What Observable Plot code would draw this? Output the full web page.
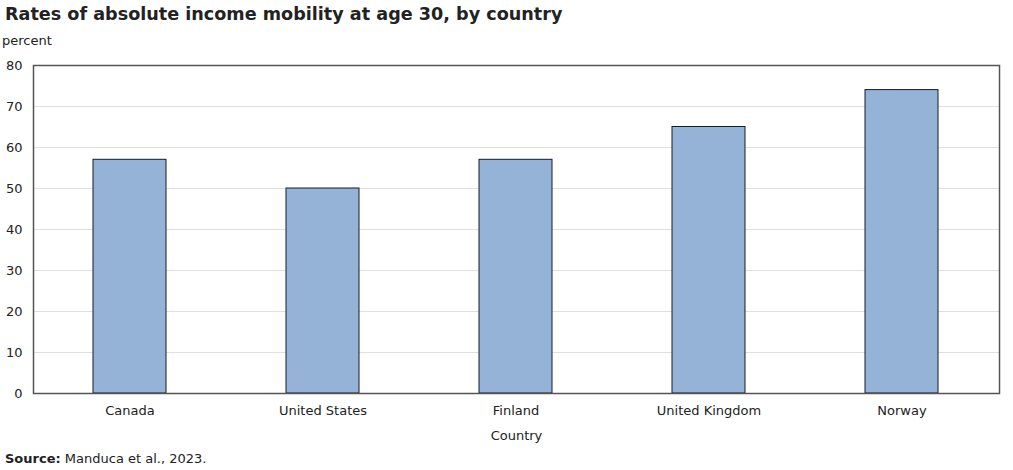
<!DOCTYPE html>
<html>
<head>
<meta charset="utf-8">
<script src="https://cdn.jsdelivr.net/npm/d3@7"></script>
<script src="https://cdn.jsdelivr.net/npm/@observablehq/plot@0.6"></script>
<style>
  body { margin: 0; background: #fff; font-family: "DejaVu Sans", Verdana, sans-serif; color: #222; }
  #title { position: absolute; left: 5px; top: 4px; font-size: 17.6px; font-weight: bold; color: #222; }
  #unit { position: absolute; left: 2px; top: 33px; font-size: 13px; color: #222; }
  #chart { position: absolute; left: 0; top: 55px; }
  #source { position: absolute; left: 5px; top: 451px; font-size: 13px; color: #222; }
</style>
</head>
<body>
<div id="title">Rates of absolute income mobility at age 30, by country</div>
<div id="unit">percent</div>
<div id="chart"></div>
<div id="source"><b>Source:</b> Manduca et al., 2023.</div>
<script>
const countries = ["Canada", "United States", "Finland", "United Kingdom", "Norway"];
const values = [57, 50, 57, 65, 74];
const yTicks = [0, 10, 20, 30, 40, 50, 60, 70, 80];

const data = countries.map((c, i) => ({country: c, value: values[i]}));

const chart = Plot.plot({
  width: 1013,
  height: 393,
  marginTop: 10,
  marginLeft: 33,
  marginRight: 14,
  marginBottom: 55,
  style: {fontFamily: "DejaVu Sans, Verdana, sans-serif", fontSize: "13px", color: "#222", background: "#fff"},
  x: {domain: countries, paddingInner: 0.62, paddingOuter: 0.31, label: null},
  y: {domain: [0, 80], label: null},
  marks: [
    Plot.gridY(yTicks.filter(d => d > 0 && d < 80), {stroke: "#e0e0e0", strokeOpacity: 1, strokeWidth: 1}),
    Plot.barY(data, {x: "country", y: "value", fill: "#95b3d7", stroke: "#141c28", strokeWidth: 1}),
    Plot.frame({stroke: "#555", strokeWidth: 1.5}),
    Plot.axisY(yTicks, {tickSize: 0, tickPadding: 11, fill: "#222", fontSize: 13}),
    Plot.axisX({tickSize: 0, tickPadding: 12, fill: "#222", label: null, fontSize: 13}),
    Plot.text(["Country"], {frameAnchor: "bottom", dy: 46, fill: "#222", fontSize: 13})
  ]
});
document.getElementById("chart").appendChild(chart);
</script>
</body>
</html>
